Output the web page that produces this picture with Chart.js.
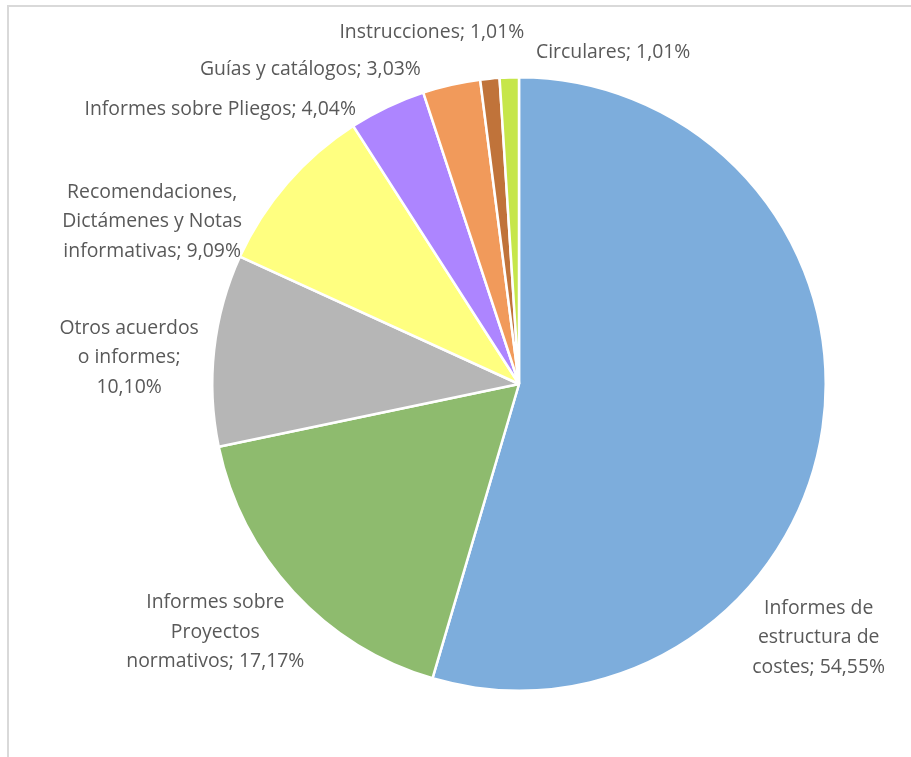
<!DOCTYPE html>
<html>
<head>
<meta charset="utf-8">
<script src="https://cdn.jsdelivr.net/npm/chart.js@4"></script>
<style>
  html, body { margin: 0; padding: 0; background: #fff; }
  #wrap { width: 911px; height: 757px; }
</style>
</head>
<body>
<div id="wrap"><canvas id="myChart" width="911" height="757"></canvas></div>
<script>
var categories = [
    'Informes de estructura de costes',
    'Informes sobre Proyectos normativos',
    'Otros acuerdos o informes',
    'Recomendaciones, Dictámenes y Notas informativas',
    'Informes sobre Pliegos',
    'Guías y catálogos',
    'Instrucciones',
    'Circulares'
];
var values = [54.55, 17.17, 10.10, 9.09, 4.04, 3.03, 1.01, 1.01];
var colors = ['#7DADDC', '#8EBB6E', '#B6B6B6', '#FFFF80', '#AD85FF', '#F19A5B', '#C0733A', '#C6E64A'];

// how each data label is broken into lines (last part gets the value)
var labelLines = [
    ['Informes de', 'estructura de', 'costes;'],
    ['Informes sobre', 'Proyectos', 'normativos;'],
    ['Otros acuerdos', 'o informes;', ''],
    ['Recomendaciones,', 'Dictámenes y Notas', 'informativas;'],
    ['Informes sobre Pliegos;'],
    ['Guías y catálogos;'],
    ['Instrucciones;'],
    ['Circulares;']
];
// label centre, in units of the pie radius from the pie centre
var labelAnchor = [
    [0.977, 0.827], [-0.990, 0.810], [-1.271, -0.085], [-1.196, -0.529],
    [-0.974, -0.895], [-0.680, -1.026], [-0.284, -1.147], [0.307, -1.082]
];

function fmt(v) {
    return v.toFixed(2).replace('.', ',') + '%';
}

var frame = {
    id: 'frame',
    beforeDraw: function(chart) {
        var c = chart.ctx;
        c.save();
        c.strokeStyle = '#d9d9d9';
        c.lineWidth = 2;
        c.beginPath();
        c.moveTo(8, 760);
        c.lineTo(8, 6);
        c.lineTo(915, 6);
        c.stroke();
        c.restore();
    }
};

var dataLabels = {
    id: 'dataLabels',
    afterDatasetsDraw: function(chart) {
        var c = chart.ctx;
        var arc = chart.getDatasetMeta(0).data[0];
        var cx = arc.x, cy = arc.y, r = arc.outerRadius;
        c.save();
        c.font = '19.4px "Open Sans", sans-serif';
        c.fillStyle = '#595959';
        c.textAlign = 'center';
        c.textBaseline = 'middle';
        var lh = 29.5;
        values.forEach(function(v, i) {
            var lines = labelLines[i].slice();
            var last = lines.length - 1;
            lines[last] = lines[last] ? lines[last] + ' ' + fmt(v) : fmt(v);
            var x = cx + labelAnchor[i][0] * r;
            var y = cy + labelAnchor[i][1] * r - (lines.length - 1) * lh / 2;
            lines.forEach(function(t, k) {
                c.fillText(t, x, y + k * lh);
            });
        });
        c.restore();
    }
};

function loadChart() {
    var ctx = document.getElementById('myChart').getContext('2d');
    new Chart(ctx, {
        type: 'pie',
        data: {
            labels: categories,
            datasets: [{
                data: values,
                backgroundColor: colors,
                borderColor: '#ffffff',
                borderWidth: 2.5
            }]
        },
        options: {
            responsive: false,
            animation: false,
            layout: { padding: { left: 211, right: 84, top: 76, bottom: 65 } },
            plugins: {
                legend: { display: false },
                tooltip: { enabled: false }
            }
        },
        plugins: [frame, dataLabels]
    });
}
loadChart();
</script>
</body>
</html>
